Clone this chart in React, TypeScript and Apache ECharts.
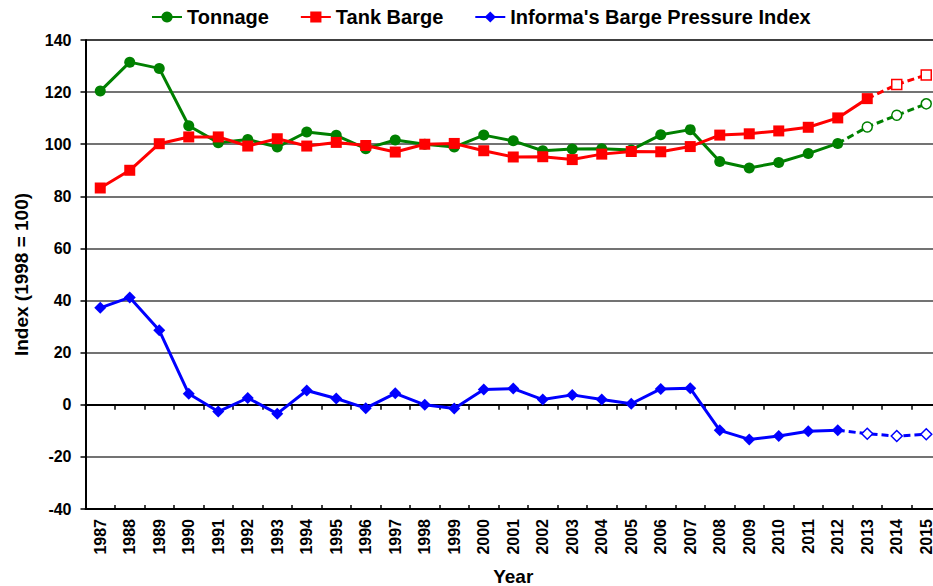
import React, { useEffect, useRef } from 'react';
import * as echarts from 'echarts';

const years = ['1987','1988','1989','1990','1991','1992','1993','1994','1995','1996','1997','1998','1999','2000','2001','2002','2003','2004','2005','2006','2007','2008','2009','2010','2011','2012','2013','2014','2015'];
const tonnage = [120.4,131.5,129.1,107.1,100.6,101.8,98.9,104.7,103.4,98.3,101.6,100,98.9,103.5,101.3,97.5,98.2,98.3,97.8,103.6,105.6,93.4,90.9,93,96.4,100.3,null,null,null];
const tonnageProjected = [null,null,null,null,null,null,null,null,null,null,null,null,null,null,null,null,null,null,null,null,null,null,null,null,null,100.3,106.6,111.1,115.5];
const tankBarge = [83.2,90,100.2,102.8,102.8,99.3,102.1,99.3,100.7,99.5,97,100,100.3,97.5,95.1,95.2,94.1,96.2,97.2,97.1,99.1,103.5,104,105.1,106.5,110.1,117.5,null,null];
const tankBargeProjected = [null,null,null,null,null,null,null,null,null,null,null,null,null,null,null,null,null,null,null,null,null,null,null,null,null,null,117.5,122.9,126.6];
const pressureIndex = [37.2,41.2,28.6,4.2,-2.6,2.6,-3.4,5.5,2.4,-1.3,4.4,0,-1.4,5.9,6.2,2,3.8,2,0.4,6.1,6.3,-9.8,-13.3,-12,-10.2,-9.8,null,null,null];
const pressureProjected = [null,null,null,null,null,null,null,null,null,null,null,null,null,null,null,null,null,null,null,null,null,null,null,null,null,-9.8,-11.1,-12,-11.3];
const yTicks = { min: -40, max: 140, interval: 20 };

const FONT = "'Liberation Sans', Arial, sans-serif";
const GREEN = '#008000';
const RED = '#FF0000';
const BLUE = '#0000FF';

function projected(arr: (number | null)[]) {
  let first = true;
  return arr.map((v) => {
    if (v === null) return null;
    if (first) {
      first = false;
      return { value: v, symbol: 'none' };
    }
    return v;
  });
}

// last label nudged inward slightly so it is not clipped by the page edge
const yearLabels = years.map((y, i) =>
  i === years.length - 1 ? { value: y, textStyle: { padding: [0, 0, 6, 0] } } : y
);

export default function App() {
  const ref = useRef<HTMLDivElement>(null);
  useEffect(() => {
    if (!ref.current) return;
    const chart = echarts.init(ref.current, undefined, { renderer: 'svg' });
    const tickAxisBase = {
      type: 'category',
      data: years,
      position: 'bottom',
      boundaryGap: true,
      axisLine: { show: true, onZero: true, lineStyle: { color: '#000', width: 2 } },
      axisLabel: { show: false },
      splitLine: { show: false },
    };
    chart.setOption({
      animation: false,
      backgroundColor: '#fff',
      textStyle: { fontFamily: FONT },
      grid: { left: 85.5, right: -8, top: 40, bottom: 77, containLabel: false, outerBoundsMode: 'none' },
      legend: {
        top: 2,
        left: 146,
        itemWidth: 30,
        itemHeight: 14,
        itemGap: 31,
        data: ['Tonnage', 'Tank Barge', "Informa's Barge Pressure Index"],
        textStyle: { fontFamily: FONT, fontWeight: 'bold', fontSize: 20, color: '#000' },
      },
      xAxis: [
        {
          type: 'category',
          data: yearLabels,
          position: 'bottom',
          boundaryGap: true,
          axisLine: { show: false, onZero: false },
          axisTick: { show: false },
          axisLabel: {
            interval: 0,
            rotate: 90,
            margin: 10,
            fontFamily: FONT,
            fontWeight: 'bold',
            fontSize: 16,
            lineHeight: 13,
            color: '#000',
          },
          name: 'Year',
          nameLocation: 'middle',
          nameGap: 58,
          nameTextStyle: { fontFamily: FONT, fontWeight: 'bold', fontSize: 19, color: '#000', verticalAlign: 'top' },
        },
        {
          ...tickAxisBase,
          axisTick: { show: true, interval: 0, length: 5, inside: false, lineStyle: { color: '#000', width: 1.5 } },
        },
        {
          ...tickAxisBase,
          axisTick: { show: true, interval: 0, length: 4, inside: true, lineStyle: { color: '#000', width: 1.5 } },
        },
      ],
      yAxis: {
        type: 'value',
        min: yTicks.min,
        max: yTicks.max,
        interval: yTicks.interval,
        axisLine: { show: true, onZero: false, lineStyle: { color: '#000', width: 2 } },
        axisTick: { show: true, length: 5, lineStyle: { color: '#000', width: 1.5 } },
        axisLabel: { margin: 14, fontFamily: FONT, fontWeight: 'bold', fontSize: 16, color: '#000' },
        splitLine: {
          show: true,
          lineStyle: {
            color: ['#000', '#444', '#444', '#444', '#444', '#444', '#444', '#444', '#444', '#000'],
            width: 1.5,
          },
        },
        name: 'Index (1998 = 100)',
        nameLocation: 'middle',
        nameGap: 55,
        nameTextStyle: { fontFamily: FONT, fontWeight: 'bold', fontSize: 19, color: '#000' },
      },
      series: [
        {
          name: 'Tonnage',
          type: 'line',
          data: tonnage,
          symbol: 'circle',
          symbolSize: 11,
          lineStyle: { color: GREEN, width: 3 },
          itemStyle: { color: GREEN },
          z: 2,
        },
        {
          name: 'Tonnage (projected)',
          type: 'line',
          data: projected(tonnageProjected),
          symbol: 'circle',
          symbolSize: 10,
          lineStyle: { color: GREEN, width: 3, type: [7, 4] },
          itemStyle: { color: '#fff', borderColor: GREEN, borderWidth: 1.5 },
          z: 2,
        },
        {
          name: 'Tank Barge',
          type: 'line',
          data: tankBarge,
          symbol: 'rect',
          symbolSize: 11,
          lineStyle: { color: RED, width: 3 },
          itemStyle: { color: RED },
          z: 3,
        },
        {
          name: 'Tank Barge (projected)',
          type: 'line',
          data: projected(tankBargeProjected),
          symbol: 'rect',
          symbolSize: 10,
          lineStyle: { color: RED, width: 3, type: [7, 4] },
          itemStyle: { color: '#fff', borderColor: RED, borderWidth: 1.5 },
          z: 3,
        },
        {
          name: "Informa's Barge Pressure Index",
          type: 'line',
          data: pressureIndex,
          symbol: 'diamond',
          symbolSize: 12,
          lineStyle: { color: BLUE, width: 3 },
          itemStyle: { color: BLUE },
          z: 4,
        },
        {
          name: 'Pressure (projected)',
          type: 'line',
          data: projected(pressureProjected),
          symbol: 'diamond',
          symbolSize: 11,
          lineStyle: { color: BLUE, width: 3, type: [7, 4] },
          itemStyle: { color: '#fff', borderColor: BLUE, borderWidth: 1.5 },
          z: 4,
        },
      ],
    });
    return () => chart.dispose();
  }, []);
  return (
    <div
      ref={ref}
      style={{ position: 'absolute', left: 0, top: 0, width: 933, height: 586, background: '#fff' }}
    />
  );
}
